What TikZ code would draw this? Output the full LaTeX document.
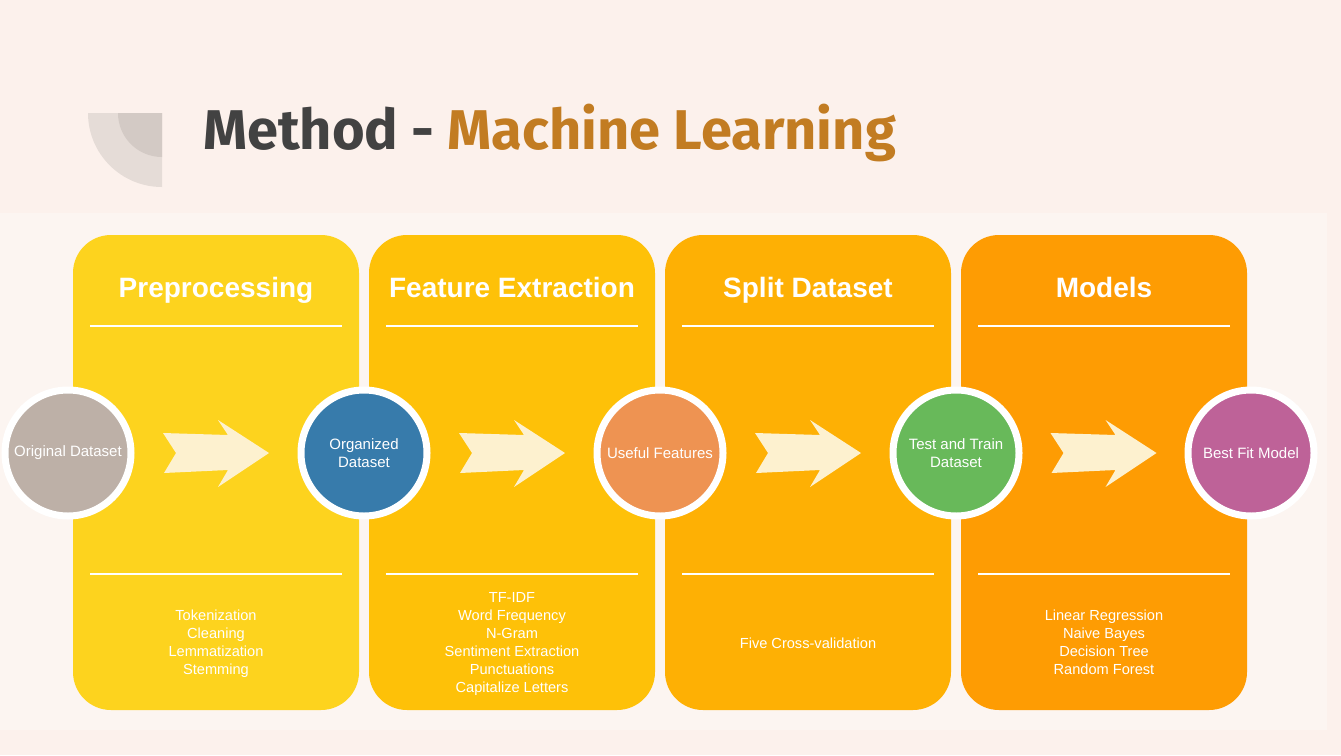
\documentclass[tikz,border=0pt]{standalone}
\usepackage{fontspec}
\setmainfont{Liberation Sans}
\newfontfamily\titlefont{Fira Sans}
\usetikzlibrary{calc}

\definecolor{pagebg}{HTML}{FCF1EC}
\definecolor{bandbg}{HTML}{FCF5F1}
\definecolor{iconout}{HTML}{E5DCD7}
\definecolor{iconin}{HTML}{D3CAC5}
\definecolor{titledark}{HTML}{424242}
\definecolor{titlebrown}{HTML}{C27C22}
\definecolor{panelA}{HTML}{FDD31E}
\definecolor{panelB}{HTML}{FEC108}
\definecolor{panelC}{HTML}{FEB004}
\definecolor{panelD}{HTML}{FE9C03}
\definecolor{arrowcream}{HTML}{FDF1CF}
\definecolor{dotgray}{HTML}{BDB0A7}
\definecolor{dotblue}{HTML}{377BAB}
\definecolor{dotorange}{HTML}{EE9352}
\definecolor{dotgreen}{HTML}{68B95A}
\definecolor{dotpurple}{HTML}{BE6298}

\tikzset{
  panel/.style={rounded corners=38pt, minimum width=286pt, minimum height=475pt, inner sep=0pt},
  heading/.style={anchor=base, text=white, font=\fontsize{28}{32}\selectfont\bfseries},
  steplist/.style={text=white, align=center, font=\fontsize{14.6}{18}\selectfont},
  rule/.style={white, line width=2.5pt},
  dot/.style={circle, draw=white, line width=7pt, minimum size=126pt, inner sep=0pt,
    text=white, align=center, font=\fontsize{15}{18}\selectfont},
  fatarrow/.pic={
    \fill[arrowcream] (-53,-20) -- (12,-18) -- (2,-33) -- (53,0) -- (2,34)
      -- (12,17) -- (-52,20) -- (-40,0) -- cycle;
  }
}

\begin{document}
\begin{tikzpicture}[x=1pt, y=-1pt]

	% background
	\fill[pagebg] (0,0) rectangle (1341,755);
	\fill[bandbg] (0,213) rectangle (1327,730);
	\useasboundingbox (0,0) rectangle (1341,755);

	% title icon
	\fill[iconout] (162,113) -- (88,113) arc[start angle=180, end angle=90, radius=74] -- cycle;
	\fill[iconin] (162,113) -- (118,113) arc[start angle=180, end angle=90, radius=44] -- cycle;

	% title
	\node[anchor=base west, inner sep=0pt, font=\titlefont\fontsize{56}{60}\selectfont\bfseries] (title) at (203,149)
	  {\textcolor{titledark}{Method -} \textcolor{titlebrown}{Machine Learning}};

	% panels
	\node[panel, fill=panelA] (prep) at (216,472.5) {};
	\node[panel, fill=panelB] (feat) at (512,472.5) {};
	\node[panel, fill=panelC] (split) at (808,472.5) {};
	\node[panel, fill=panelD] (models) at (1104,472.5) {};

	% headings
	\node[heading] (prephead) at (216,297) {Preprocessing};
	\node[heading] (feathead) at (512,297) {Feature Extraction};
	\node[heading] (splithead) at (808,297) {Split Dataset};
	\node[heading] (modelshead) at (1104,297) {Models};

	% upper rules
	\draw[rule] (90,326) -- (342,326);
	\draw[rule] (386,326) -- (638,326);
	\draw[rule] (682,326) -- (934,326);
	\draw[rule] (978,326) -- (1230,326);

	% lower rules
	\draw[rule] (90,574) -- (342,574);
	\draw[rule] (386,574) -- (638,574);
	\draw[rule] (682,574) -- (934,574);
	\draw[rule] (978,574) -- (1230,574);

	% step lists
	\node[steplist] (preplist) at (216,644) {Tokenization\\Cleaning\\Lemmatization\\Stemming};
	\node[steplist] (featlist) at (512,644) {TF-IDF\\Word Frequency\\N-Gram\\Sentiment Extraction\\Punctuations\\Capitalize Letters};
	\node[steplist] (splitlist) at (808,643) {Five Cross-validation};
	\node[steplist] (modelslist) at (1104,642) {Linear Regression\\Naive Bayes\\Decision Tree\\Random Forest};

	% data circles
	\node[dot, fill=dotgray] (orig) at (68,453) {Original Dataset};
	\node[dot, fill=dotblue] (organized) at (364,453) {Organized\\Dataset};
	\node[dot, fill=dotorange] (useful) at (660,453) {Useful Features};
	\node[dot, fill=dotgreen] (testtrain) at (956,453) {Test and Train\\Dataset};
	\node[dot, fill=dotpurple] (bestfit) at (1251,453) {Best Fit Model};

	% arrows between circles
	\pic at ($(orig)!0.5!(organized)$) {fatarrow};
	\pic at ($(organized)!0.5!(useful)$) {fatarrow};
	\pic at ($(useful)!0.5!(testtrain)$) {fatarrow};
	\pic at ($(testtrain)!0.5!(bestfit)$) {fatarrow};

\end{tikzpicture}
\end{document}
